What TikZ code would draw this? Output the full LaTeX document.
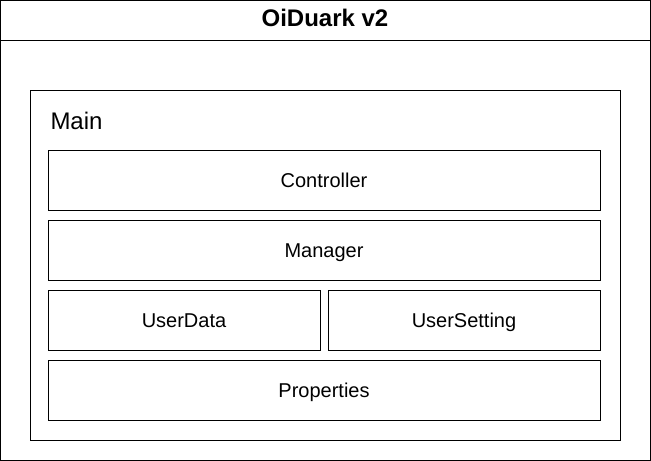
\documentclass[tikz,border=0pt]{standalone}
\usepackage{fontspec}
\setmainfont{Liberation Sans}
\begin{document}
\begin{tikzpicture}
  [x=0.75pt,y=-0.75pt,line width=0.75pt,
   boxN/.style={draw,inner sep=0pt,outer sep=0pt,text height=10.8pt,text depth=0pt,
                font=\fontsize{15}{18}\selectfont},
   wideN/.style={boxN,minimum width=414pt,minimum height=45pt},
   halfN/.style={boxN,minimum width=204pt,minimum height=45pt},
  ]
 \useasboundingbox (0,0) rectangle (651,461);

 \node[draw,inner sep=0pt,minimum width=487.5pt,minimum height=345pt] (frame) at (325,230) {};
 \node[draw,inner sep=0pt,minimum width=487.5pt,minimum height=30pt,text height=12.9pt,text depth=3pt,
       font=\fontsize{18}{21}\selectfont\bfseries] (title) at (325,20) {OiDuark v2};

 \node[draw,inner sep=0pt,minimum width=442.5pt,minimum height=262.5pt] (main) at (325,265) {};
 \node[anchor=west,inner sep=0pt,font=\fontsize{18}{21}\selectfont] (mainLabel) at (50,121) {Main};

 \node[wideN] (controller) at (324,180) {Controller};
 \node[wideN] (manager) at (324,250) {Manager};
 \node[halfN] (userData) at (184,320) {UserData};
 \node[halfN] (userSetting) at (464,320) {UserSetting};
 \node[wideN] (properties) at (324,390) {Properties};
\end{tikzpicture}
\end{document}
